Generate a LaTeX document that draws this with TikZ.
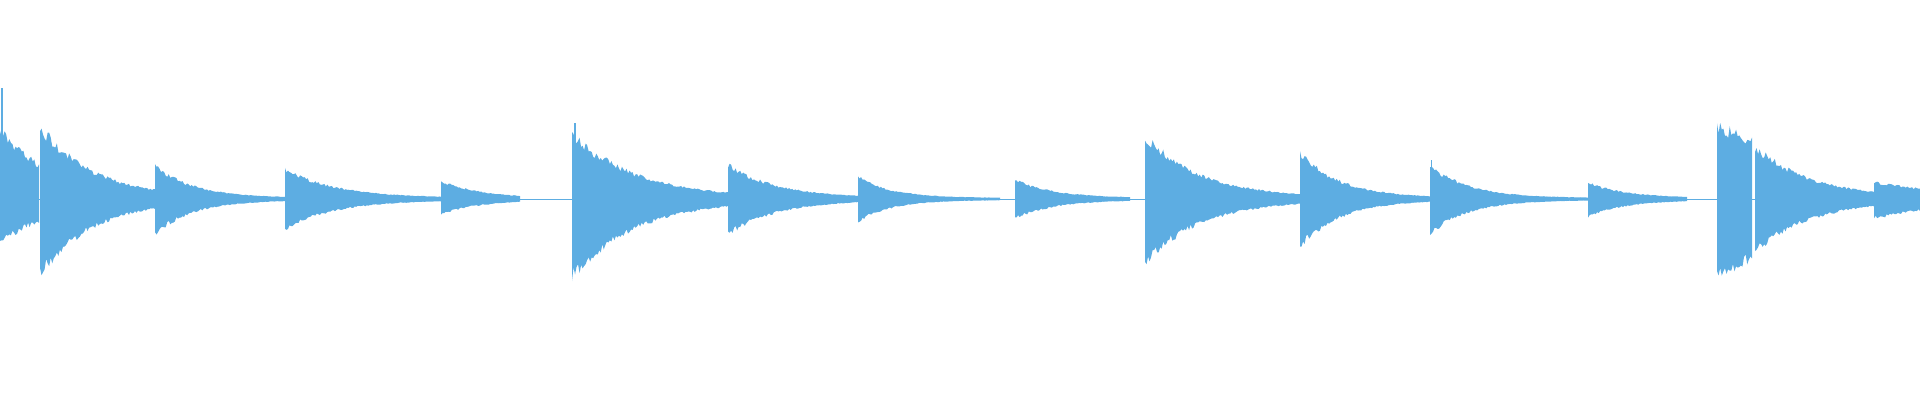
\documentclass[tikz,border=0pt]{standalone}
\definecolor{wave}{RGB}{93,173,226}
\newcommand\wavehit[5]{%
  \pgfmathtruncatemacro\ns{max(4,(#2-#1)/1.5)}%
  \fill[wave] (#1,201) -- plot[domain=#1:#2,samples=\ns] (\x,{201+(#3*exp(-#5*(\x-#1))+1)*(1+0.1*rand)})
    -- plot[domain=#2:#1,samples=\ns] (\x,{201-(#4*exp(-#5*(\x-#1))+1)*(1+0.1*rand)}) -- cycle;}
\begin{document}
\begin{tikzpicture}[x=1pt,y=1pt]
\useasboundingbox (0,0) rectangle (1920,400);
\pgfmathsetseed{7}
\draw[wave,line width=1pt] (0,201) -- (1920,201);
\wavehit{0}{39}{66}{42}{0.018}
\fill[wave] (1,201) rectangle (3,312);
\wavehit{40}{155}{71}{73}{0.019}
\wavehit{155}{285}{32}{33}{0.026}
\wavehit{285}{441}{29}{28}{0.02}
\wavehit{441}{520}{17}{14}{0.026}
\wavehit{572}{728}{64}{76}{0.016}
\fill[wave] (574,201) rectangle (576,277);
\wavehit{728}{858}{33}{34}{0.021}
\wavehit{858}{1000}{21}{21}{0.03}
\wavehit{1015}{1130}{18}{18}{0.026}
\wavehit{1145}{1300}{62}{62}{0.018}
\wavehit{1300}{1430}{45}{46}{0.025}
\wavehit{1430}{1588}{32}{33}{0.026}
\fill[wave] (1431,201) rectangle (1432,240);
\wavehit{1588}{1687}{15}{16}{0.026}
\wavehit{1717}{1752}{71}{73}{0.0065}
\wavehit{1755}{1874}{51}{51}{0.018}
\wavehit{1874}{1920}{16}{18}{0.0125}
\end{tikzpicture}
\end{document}
